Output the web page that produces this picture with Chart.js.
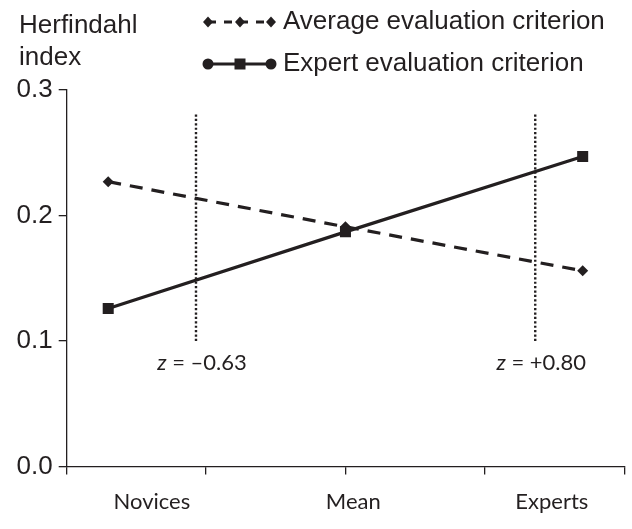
<!DOCTYPE html>
<html>
<head>
<meta charset="utf-8">
<script src="https://cdn.jsdelivr.net/npm/chart.js@4.4.1/dist/chart.umd.min.js"></script>
<style>
  html, body { margin: 0; padding: 0; background: #ffffff; }
  #wrap { width: 632px; height: 529px; position: relative; }
</style>
</head>
<body>
<div id="wrap"><canvas id="c" width="632" height="529"></canvas></div>
<script>
// ---- Data ----
const categories = ['Novices', 'Mean', 'Experts'];
const groupZ = [-1, 0, 1];
const averageCriterion = [0.227, 0.191, 0.156];
const expertCriterion = [0.126, 0.187, 0.247];
const thresholdZ = [-0.63, 0.80];
const thresholdLabels = ['–0.63', '+0.80'];
const dottedRange = [0.1, 0.282];
const yTicks = [0.0, 0.1, 0.2, 0.3];
const xTickMarks = [-1.175, -0.5875, 0, 0.5875, 1.175];
const categoryLabelZ = [-0.816, 0.033, 0.870];
const seriesNames = ['Average evaluation criterion', 'Expert evaluation criterion'];
const yTitle = ['Herfindahl', 'index'];

const INK = '#231f20';
const ARIAL = '"Liberation Sans", Arial, sans-serif';
const CAL = 'Lato, "Open Sans", sans-serif';

const pts = (ys) => groupZ.map((z, i) => ({ x: z, y: ys[i] }));

const datasets = [
  {
    label: seriesNames[1],
    data: pts(expertCriterion),
    borderColor: INK, backgroundColor: INK,
    borderWidth: 3.2,
    pointStyle: 'rect', pointRadius: 7.8, pointBorderWidth: 0,
    order: 0
  },
  {
    label: seriesNames[0],
    data: pts(averageCriterion),
    borderColor: INK, backgroundColor: INK,
    borderWidth: 3.2, borderDash: [13, 9],
    pointStyle: 'rectRot', pointRadius: 5.5, pointBorderWidth: 0,
    order: 1
  }
];
thresholdZ.forEach((z) => {
  datasets.push({
    label: 'threshold',
    data: [{ x: z, y: dottedRange[0] }, { x: z, y: dottedRange[1] }],
    borderColor: INK, borderWidth: 2.4, borderDash: [2.2, 2.2],
    pointRadius: 0, order: 2
  });
});

const overlay = {
  id: 'overlay',
  afterDraw(chart) {
    const ctx = chart.ctx;
    const xs = chart.scales.x, ys = chart.scales.y;
    ctx.save();
    ctx.fillStyle = INK;
    ctx.strokeStyle = INK;
    // y-axis title
    ctx.font = '26px ' + ARIAL;
    ctx.textBaseline = 'middle';
    ctx.textAlign = 'left';
    ctx.fillText(yTitle[0], 19, 26);
    ctx.fillText(yTitle[1], 19, 58);
    // legend
    const mx = [208, 240, 271];
    const rowY = [22, 64];
    ctx.lineWidth = 3;
    ctx.setLineDash([8, 8]);
    ctx.beginPath(); ctx.moveTo(mx[0], rowY[0]); ctx.lineTo(mx[2], rowY[0]); ctx.stroke();
    ctx.setLineDash([]);
    mx.forEach((x) => {
      ctx.beginPath();
      ctx.moveTo(x, rowY[0] - 5.5); ctx.lineTo(x + 5, rowY[0]);
      ctx.lineTo(x, rowY[0] + 5.5); ctx.lineTo(x - 5, rowY[0]);
      ctx.closePath(); ctx.fill();
    });
    ctx.beginPath(); ctx.moveTo(mx[0], rowY[1]); ctx.lineTo(mx[2], rowY[1]); ctx.stroke();
    [mx[0], mx[2]].forEach((x) => {
      ctx.beginPath(); ctx.arc(x, rowY[1], 5.5, 0, Math.PI * 2); ctx.fill();
    });
    ctx.fillRect(mx[1] - 5.5, rowY[1] - 5.5, 11, 11);
    ctx.font = '26px ' + ARIAL;
    ctx.fillText(seriesNames[0], 283, rowY[0]);
    ctx.fillText(seriesNames[1], 283, rowY[1]);
    // z labels
    thresholdZ.forEach((z, i) => {
      const cx = xs.getPixelForValue(z) + 6;
      const cy = ys.getPixelForValue(dottedRange[0]) + 22;
      ctx.font = 'italic 22px ' + CAL;
      const w1 = ctx.measureText('z').width;
      ctx.font = '22px ' + CAL;
      const rest = ' = ' + thresholdLabels[i];
      const w2 = ctx.measureText(rest).width;
      const x0 = cx - (w1 + w2) / 2;
      ctx.font = 'italic 22px ' + CAL;
      ctx.fillText('z', x0, cy);
      ctx.font = '22px ' + CAL;
      ctx.fillText(rest, x0 + w1, cy);
    });
    ctx.restore();
  }
};

new Chart(document.getElementById('c'), {
  type: 'line',
  data: { datasets },
  plugins: [overlay],
  options: {
    responsive: false,
    animation: false,
    layout: { padding: { top: 90, right: 5, left: 0, bottom: 0 } },
    plugins: { legend: { display: false }, tooltip: { enabled: false }, title: { display: false } },
    scales: {
      x: {
        type: 'linear', position: 'bottom',
        min: xTickMarks[0], max: xTickMarks[xTickMarks.length - 1],
        afterBuildTicks: (s) => { s.ticks = xTickMarks.map((v) => ({ value: v })); },
        grid: { display: true, drawOnChartArea: false, drawTicks: true, tickLength: 8, color: INK, lineWidth: 1.3 },
        border: { display: true, color: INK, width: 1.3 },
        ticks: { display: false }
      },
      xLabels: {
        type: 'linear', position: 'bottom',
        min: xTickMarks[0], max: xTickMarks[xTickMarks.length - 1],
        afterBuildTicks: (s) => { s.ticks = categoryLabelZ.map((v) => ({ value: v })); },
        grid: { display: false, drawTicks: false },
        border: { display: false },
        ticks: {
          autoSkip: false, maxRotation: 0, minRotation: 0,
          padding: 14,
          color: INK,
          font: { family: CAL, size: 22 },
          callback: (v, i) => categories[i]
        }
      },
      y: {
        min: 0, max: 0.3,
        afterBuildTicks: (s) => { s.ticks = yTicks.map((v) => ({ value: v })); },
        afterFit: (s) => { s.width = 66.7; },
        grid: { display: true, drawOnChartArea: false, drawTicks: true, tickLength: 8, color: INK, lineWidth: 1.3 },
        border: { display: true, color: INK, width: 1.3 },
        ticks: {
          padding: 6, color: INK,
          font: { family: ARIAL, size: 26 },
          callback: (v) => v.toFixed(1)
        }
      }
    }
  }
});
</script>
</body>
</html>
